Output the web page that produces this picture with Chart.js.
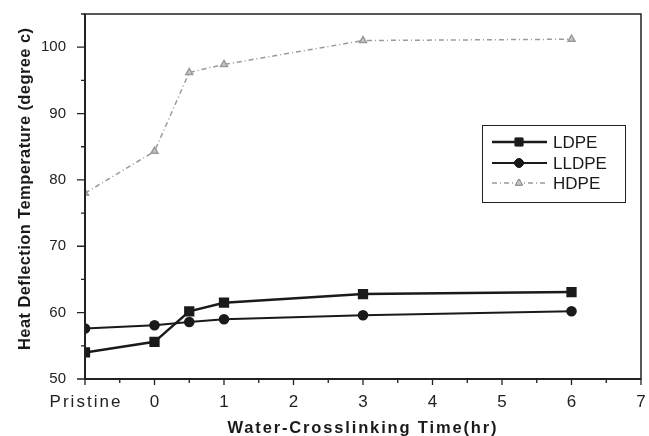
<!DOCTYPE html>
<html lang="en">
<head>
<meta charset="UTF-8">
<title>Heat Deflection Temperature</title>
<script src="https://cdn.jsdelivr.net/npm/chart.js"></script>
<style>
    html, body { margin: 0; padding: 0; background: #fff; }
    #wrap { position: relative; width: 649px; height: 436px; }
</style>
</head>
<body>
<div id="wrap"><canvas id="hdtChart" width="649" height="436"></canvas></div>
<script>
// x positions in hours; -1 stands for the "Pristine" sample
const timeHours = [-1, 0, 0.5, 1, 3, 6];
const xTickLabels = ['Pristine', '0', '1', '2', '3', '4', '5', '6', '7'];
const yTickValues = [50, 60, 70, 80, 90, 100];

const ldpe  = [54.0, 55.6, 60.2, 61.5, 62.8, 63.1];
const lldpe = [57.6, 58.1, 58.6, 59.0, 59.6, 60.2];
const hdpe  = [78.0, 84.3, 96.2, 97.4, 101.0, 101.2];

const xTitle = 'Water-Crosslinking Time(hr)';
const yTitle = 'Heat Deflection Temperature (degree c)';

const FONT = '"Liberation Sans", Arial, sans-serif';

function pts(vals) {
    return vals.map((v, i) => ({ x: timeHours[i], y: v }));
}

// spread text so it covers a given width (scanned figure has loose spacing)
function spacedText(ctx, text, cx, cy, width) {
    ctx.letterSpacing = '0px';
    const w = ctx.measureText(text).width;
    const sp = Math.max(0, (width - w) / (text.length - 1));
    ctx.letterSpacing = sp + 'px';
    ctx.textAlign = 'center';
    ctx.textBaseline = 'middle';
    ctx.fillText(text, cx + sp / 2, cy);
    ctx.letterSpacing = '0px';
}

// frame, outward major/minor ticks, x labels, titles and the boxed legend
const framePlugin = {
    id: 'frame',
    afterDraw(chart) {
        const ctx = chart.ctx;
        const a = chart.chartArea;
        const xs = chart.scales.x, ys = chart.scales.y;
        ctx.save();
        ctx.strokeStyle = '#222';
        ctx.lineWidth = 1.5;
        ctx.strokeRect(a.left, a.top, a.right - a.left, a.bottom - a.top);
        ctx.lineWidth = 2;
        ctx.beginPath();
        ctx.moveTo(a.left, a.top); ctx.lineTo(a.left, a.bottom); ctx.lineTo(a.right, a.bottom);
        ctx.stroke();

        ctx.lineWidth = 1.3;
        ctx.beginPath();
        for (let v = -1; v <= 7.001; v += 0.5) {
            const px = xs.getPixelForValue(v);
            const len = Number.isInteger(v) ? 6 : 4;
            ctx.moveTo(px, a.bottom); ctx.lineTo(px, a.bottom + len);
        }
        for (let v = 50; v <= 105; v += 5) {
            const py = ys.getPixelForValue(v);
            const len = v % 10 === 0 ? 8 : 4;
            ctx.moveTo(a.left, py); ctx.lineTo(a.left - len, py);
        }
        ctx.stroke();

        // x tick labels
        ctx.fillStyle = '#222';
        ctx.font = '17px ' + FONT;
        xTickLabels.forEach((lab, i) => {
            const px = xs.getPixelForValue(i - 1);
            if (lab.length > 1) spacedText(ctx, lab, px, a.bottom + 23, 71);
            else { ctx.textAlign = 'center'; ctx.textBaseline = 'middle'; ctx.fillText(lab, px, a.bottom + 23); }
        });

        // axis titles
        ctx.fillStyle = '#1a1a1a';
        ctx.font = 'bold 16.5px ' + FONT;
        spacedText(ctx, xTitle, (a.left + a.right) / 2 - 1, 428, 269);
        ctx.save();
        ctx.translate(25, 189);
        ctx.rotate(-Math.PI / 2);
        spacedText(ctx, yTitle, 0, 0, 322);
        ctx.restore();

        // legend
        const lx = 482, ly = 125, lw = 143, lh = 77;
        ctx.fillStyle = '#fff';
        ctx.fillRect(lx, ly, lw, lh);
        ctx.strokeStyle = '#222';
        ctx.lineWidth = 1;
        ctx.strokeRect(lx + 0.5, ly + 0.5, lw, lh);
        const rows = [142, 163, 183];
        chart.data.datasets.forEach((ds, i) => {
            const y = rows[i];
            ctx.save();
            ctx.strokeStyle = ds.borderColor;
            ctx.lineWidth = ds.borderWidth;
            ctx.setLineDash(ds.borderDash || []);
            ctx.beginPath();
            ctx.moveTo(492, y); ctx.lineTo(547, y);
            ctx.stroke();
            ctx.restore();
            Chart.helpers.drawPoint(ctx, {
                pointStyle: ds.pointStyle, radius: ds.pointRadius, rotation: 0,
                borderWidth: 1
            }, 519, y);
            ctx.fillStyle = ds.pointBackgroundColor;
            ctx.strokeStyle = ds.pointBorderColor;
            ctx.fill(); ctx.stroke();
            ctx.fillStyle = '#1a1a1a';
            ctx.font = '17px ' + FONT;
            ctx.textAlign = 'left';
            ctx.textBaseline = 'middle';
            ctx.fillText(ds.label, 553, y + 1);
        });
        ctx.restore();
    }
};

new Chart(document.getElementById('hdtChart'), {
    type: 'line',
    data: {
        datasets: [
            {
                label: 'LDPE', data: pts(ldpe),
                borderColor: '#1a1a1a', borderWidth: 2.5,
                pointStyle: 'rect', pointRadius: 5.5,
                pointBackgroundColor: '#1a1a1a', pointBorderColor: '#1a1a1a'
            },
            {
                label: 'LLDPE', data: pts(lldpe),
                borderColor: '#1a1a1a', borderWidth: 2,
                pointStyle: 'circle', pointRadius: 4.3,
                pointBackgroundColor: '#1a1a1a', pointBorderColor: '#1a1a1a'
            },
            {
                label: 'HDPE', data: pts(hdpe),
                borderColor: '#9a9a9a', borderWidth: 1.5, borderDash: [5, 3, 1, 3],
                pointStyle: 'triangle', pointRadius: 4,
                pointBackgroundColor: '#c8c8c8', pointBorderColor: '#999'
            }
        ]
    },
    options: {
        responsive: false,
        animation: false,
        layout: { padding: { top: 14, right: 4, left: 0, bottom: 0 } },
        plugins: { legend: { display: false }, tooltip: { enabled: false } },
        elements: { line: { tension: 0 } },
        scales: {
            x: {
                type: 'linear', min: -1, max: 7,
                border: { display: false },
                grid: { display: false },
                afterBuildTicks: s => { s.ticks = xTickLabels.map((_, i) => ({ value: i - 1 })); },
                afterFit: s => { s.height = 57; s.paddingLeft = 0; s.paddingRight = 0; },
                ticks: { display: false }
            },
            y: {
                min: 50, max: 105,
                border: { display: false },
                grid: { display: false },
                afterBuildTicks: s => { s.ticks = yTickValues.map(v => ({ value: v })); },
                afterFit: s => { s.width = 85; s.paddingTop = 0; s.paddingBottom = 0; },
                ticks: {
                    color: '#222', padding: 11,
                    font: { family: FONT, size: 15 }
                }
            }
        }
    },
    plugins: [framePlugin]
});
</script>
</body>
</html>
